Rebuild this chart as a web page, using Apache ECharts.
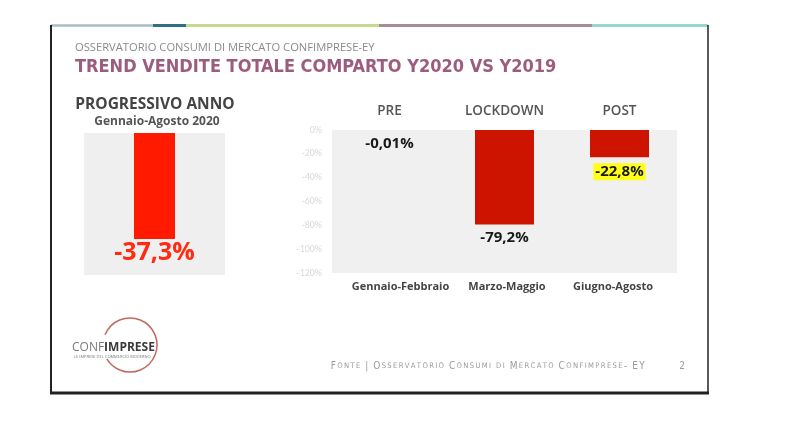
<!DOCTYPE html>
<html>
<head>
<meta charset="utf-8">
<script src="https://cdn.jsdelivr.net/npm/echarts@6/dist/echarts.min.js"></script>
<style>
html,body{margin:0;padding:0;background:#ffffff;}
#chart{width:795px;height:448px;}
</style>
</head>
<body>
<div id="chart"></div>
<script>
// ---- data ----
const leftCategories = ['Gennaio-Agosto 2020'];
const leftValues = [-37.3];
const periodHeaders = ['PRE', 'LOCKDOWN', 'POST'];
const periodCategories = ['Gennaio-Febbraio', 'Marzo-Maggio', 'Giugno-Agosto'];
const periodValues = [-0.01, -79.2, -22.8];
const yTickMin = -120, yTickMax = 0, yTickStep = 20;

const overline = 'OSSERVATORIO CONSUMI DI MERCATO CONFIMPRESE-EY';
const mainTitle = 'TREND VENDITE TOTALE COMPARTO Y2020 VS Y2019';
const leftTitle = 'PROGRESSIVO ANNO';
const footerText = 'Fonte | Osservatorio Consumi di Mercato Confimprese- EY';
const pageNumber = '2';

const fmt = v => String(v).replace('.', ',') + '%';

// small caps rich text for footer
function smallCaps(str) {
  let out = '';
  for (const ch of str) {
    if (ch === ' ') { out += '{sp| }'; continue; }
    if (ch >= 'a' && ch <= 'z') out += '{s|' + ch.toUpperCase() + '}';
    else out += '{c|' + ch + '}';
  }
  return out;
}
const footerRich = smallCaps(footerText);

const chart = echarts.init(document.getElementById('chart'), null, {renderer: 'canvas'});

const labelFont = '"Open Sans", "DejaVu Sans", sans-serif';
const catStyleBase = {color: '#444', fontSize: 11, fontWeight: 'bold', fontFamily: labelFont};

const option = {
  animation: false,
  backgroundColor: '#ffffff',
  grid: [
    {left: 84, top: 133, width: 141, height: 142, show: true, backgroundColor: '#efefef', borderWidth: 0, containLabel: false},
    {left: 332, top: 130, width: 345, height: 143, show: true, backgroundColor: '#f0f0f0', borderWidth: 0, containLabel: false}
  ],
  xAxis: [
    {type: 'category', gridIndex: 0, data: leftCategories, show: false},
    {type: 'category', gridIndex: 1, data: periodCategories, position: 'bottom',
      axisLine: {show: false}, axisTick: {show: false},
      axisLabel: {interval: 0, margin: 8, color: '#444', fontSize: 11, fontWeight: 'bold', fontFamily: labelFont,
        formatter: (v, i) => '{c' + i + '|' + v + '}',
        rich: {
          c0: Object.assign({padding: [0, 0, 0, 22]}, catStyleBase),
          c1: Object.assign({padding: [0, 0, 0, 5]}, catStyleBase),
          c2: Object.assign({padding: [0, 13, 0, 0]}, catStyleBase)
        }}},
    {type: 'category', gridIndex: 1, data: periodHeaders, position: 'top',
      axisLine: {show: false}, axisTick: {show: false},
      axisLabel: {interval: 0, margin: 12, color: '#555', fontSize: 13.5, fontWeight: 600, fontFamily: labelFont}}
  ],
  yAxis: [
    {type: 'value', gridIndex: 0, min: -50, max: 0, show: false, splitLine: {show: false}},
    {type: 'value', gridIndex: 1, min: yTickMin, max: yTickMax, interval: yTickStep,
      axisLine: {show: false}, axisTick: {show: false}, splitLine: {show: false},
      axisLabel: {margin: 10, color: '#dadada', fontSize: 10, fontFamily: 'Carlito, "Liberation Sans", sans-serif',
        formatter: v => v + '%'}}
  ],
  series: [
    {type: 'bar', xAxisIndex: 0, yAxisIndex: 0, data: leftValues, barWidth: 41,
      itemStyle: {color: '#ff1a00'},
      label: {show: true, position: 'bottom', distance: 1, formatter: p => fmt(p.value),
        color: '#ff2a10', fontSize: 25, fontWeight: 'bold', fontFamily: labelFont}},
    {type: 'bar', xAxisIndex: 1, yAxisIndex: 1, barWidth: 59,
      data: periodValues.map((v, i) => i === 2 ? {value: v, label: {backgroundColor: '#ffff1a', padding: [1, 2]}} : v),
      itemStyle: {color: '#cc1400'},
      label: {show: true, position: 'bottom', distance: 6, formatter: p => fmt(p.value),
        color: '#1a1a1a', fontSize: 15, fontWeight: 'bold', fontFamily: labelFont}}
  ],
  graphic: [
    // slide frame
    {type: 'line', shape: {x1: 51, y1: 25.5, x2: 153, y2: 25.5}, style: {stroke: '#a9bcc4', lineWidth: 2.5}, silent: true},
    {type: 'line', shape: {x1: 153, y1: 25.5, x2: 186, y2: 25.5}, style: {stroke: '#2f6f83', lineWidth: 3}, silent: true},
    {type: 'line', shape: {x1: 186, y1: 25.5, x2: 379, y2: 25.5}, style: {stroke: '#c6d98e', lineWidth: 3}, silent: true},
    {type: 'line', shape: {x1: 379, y1: 25.5, x2: 592, y2: 25.5}, style: {stroke: '#a68b9b', lineWidth: 3}, silent: true},
    {type: 'line', shape: {x1: 592, y1: 25.5, x2: 708, y2: 25.5}, style: {stroke: '#96d6d0', lineWidth: 3}, silent: true},
    {type: 'line', shape: {x1: 51, y1: 25, x2: 51, y2: 394}, style: {stroke: '#222', lineWidth: 2}, silent: true},
    {type: 'line', shape: {x1: 708, y1: 25, x2: 708, y2: 394}, style: {stroke: '#222', lineWidth: 1.5}, silent: true},
    {type: 'line', shape: {x1: 50, y1: 393, x2: 709, y2: 393}, style: {stroke: '#222', lineWidth: 3}, silent: true},
    // headings
    {type: 'text', left: 75, top: 42, style: {text: overline, fill: '#8a8a8a', fontSize: 11.2,
      fontFamily: labelFont}},
    {type: 'text', left: 75, top: 58, style: {text: mainTitle, fill: '#9c5c7e', fontSize: 18, fontWeight: 'bold',
      fontFamily: '"Liberation Sans Narrow", "DejaVu Sans Condensed", sans-serif'}},
    {type: 'text', x: 155, y: 105, style: {text: leftTitle, fill: '#444', fontSize: 15.5, fontWeight: 'bold',
      fontFamily: labelFont, align: 'center', verticalAlign: 'middle'}},
    {type: 'text', x: 157, y: 122, style: {text: leftCategories[0], fill: '#555', fontSize: 12, fontWeight: 'bold',
      fontFamily: labelFont, align: 'center', verticalAlign: 'middle'}},
    // logo
    {type: 'arc', shape: {cx: 130, cy: 345, r: 27, startAngle: -2.75, endAngle: 2.6, clockwise: true},
      style: {stroke: '#c06a60', lineWidth: 1.5, fill: null}, silent: true},
    {type: 'text', x: 72, y: 348, style: {text: '{a|CONF}{b|IMPRESE}', verticalAlign: 'middle',
      rich: {a: {fill: '#7a7a7a', fontSize: 12, fontFamily: labelFont},
             b: {fill: '#3a3a3a', fontSize: 12, fontWeight: 'bold', fontFamily: labelFont}}}},
    {type: 'text', x: 74, y: 357, style: {text: 'LE IMPRESE DEL COMMERCIO MODERNO', fill: '#777', fontSize: 4,
      fontFamily: labelFont, verticalAlign: 'middle'}},
    // footer
    {type: 'text', x: 330, y: 366, style: {text: footerRich, verticalAlign: 'middle',
      rich: {c: {fill: '#9a9a9a', fontSize: 10, fontFamily: '"DejaVu Sans Condensed", sans-serif', padding: [0, 0.68]},
             s: {fill: '#9a9a9a', fontSize: 7.6, fontFamily: '"DejaVu Sans Condensed", sans-serif', padding: [0, 0.68]},
             sp: {fill: '#9a9a9a', fontSize: 8, padding: [0, 0.68]}}}},
    {type: 'text', x: 682, y: 366, style: {text: pageNumber, fill: '#9a9a9a', fontSize: 10, align: 'center',
      verticalAlign: 'middle', fontFamily: '"DejaVu Sans Condensed", sans-serif'}}
  ]
};
chart.setOption(option);
</script>
</body>
</html>
